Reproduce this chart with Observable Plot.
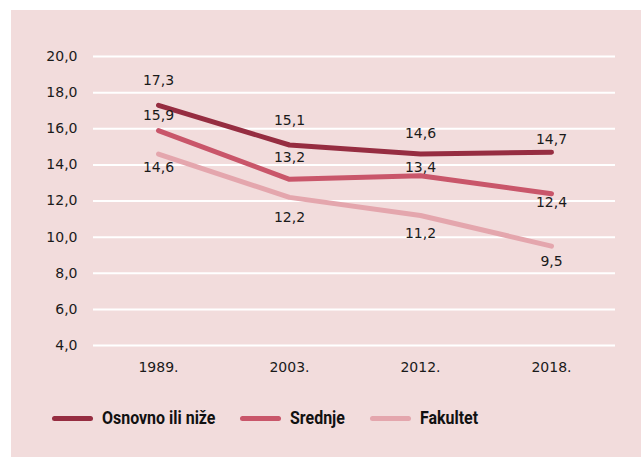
<!DOCTYPE html>
<html>
<head>
<meta charset="utf-8">
<script src="https://cdn.jsdelivr.net/npm/d3@7"></script>
<script src="https://cdn.jsdelivr.net/npm/@observablehq/plot@0.6"></script>
<style>
  html, body { margin: 0; padding: 0; background: #ffffff; }
  #panel {
    position: absolute; left: 11px; top: 10px; width: 630px; height: 447px;
    background: #f2dcdc; overflow: hidden;
  }
  #legend {
    display: flex; align-items: center; margin-left: 41px; padding-top: 18px;
    font-family: "Roboto", "Liberation Sans", sans-serif;
    font-weight: bold; font-size: 19px; color: #111; line-height: 20px; white-space: nowrap;
  }
  .item { display: flex; align-items: center; margin-right: 25px; }
  .sw { width: 41px; height: 5px; border-radius: 3px; margin-right: 9px; flex: none; }
  .lab { display: inline-block; transform-origin: left center; }
</style>
</head>
<body>
<div id="panel"><div id="chart"></div><div id="legend"></div></div>
<script>
const years = ["1989.", "2003.", "2012.", "2018."];
const seriesNames = ["Osnovno ili niže", "Srednje", "Fakultet"];
const osnovno = [17.3, 15.1, 14.6, 14.7];
const srednje = [15.9, 13.2, 13.4, 12.4];
const fakultet = [14.6, 12.2, 11.2, 9.5];
const yTicks = [4, 6, 8, 10, 12, 14, 16, 18, 20];
const colors = ["#962d41", "#c9566a", "#e4a6ad"];

const fmt = d => d.toFixed(1).replace(".", ",");
const seriesValues = [osnovno, srednje, fakultet];
const rows = [];
seriesNames.forEach((s, si) => {
  years.forEach((y, i) => rows.push({series: s, si, i, year: y, value: seriesValues[si][i]}));
});

// label offsets (pixels) relative to each point, per series / per year
const labelDy = [[-25, -24, -21, -13], [-15, -22, -8, 9], [13, 20, 18, 15]];
const textOpts = {x: "year", y: "value", text: d => fmt(d.value), fill: "#1a1a1a", fontSize: 14};

const chart = Plot.plot({
  width: 630,
  height: 380,
  marginLeft: 82,
  marginRight: 26,
  marginTop: 46,
  marginBottom: 45,
  style: {fontFamily: "DejaVu Sans", fontSize: "14px", background: "transparent", color: "#1a1a1a"},
  x: {type: "point", domain: years, padding: 0.48, tickSize: 0, tickPadding: 17, label: null},
  y: {domain: [4, 20], ticks: yTicks, tickSize: 0, tickPadding: 16, tickFormat: fmt, label: null},
  color: {domain: seriesNames, range: colors},
  marks: [
    Plot.ruleY(yTicks, {stroke: "white", strokeWidth: 2}),
    Plot.line(rows, {x: "year", y: "value", z: "series", stroke: "series", strokeWidth: 5, strokeLinecap: "round", strokeLinejoin: "round"}),
    ...rows.map(d => Plot.text([d], {...textOpts, dy: labelDy[d.si][d.i]}))
  ]
});
document.getElementById("chart").appendChild(chart);

const legend = document.getElementById("legend");
seriesNames.forEach((s, i) => {
  const item = document.createElement("div");
  item.className = "item";
  const sw = document.createElement("div");
  sw.className = "sw";
  sw.style.background = colors[i];
  const lab = document.createElement("span");
  lab.className = "lab";
  lab.textContent = s;
  item.appendChild(sw);
  item.appendChild(lab);
  legend.appendChild(item);
  const w = lab.offsetWidth;
  const k = 0.84;
  lab.style.transform = `scaleX(${k})`;
  lab.style.marginRight = `${-(1 - k) * w}px`;
});
</script>
</body>
</html>
